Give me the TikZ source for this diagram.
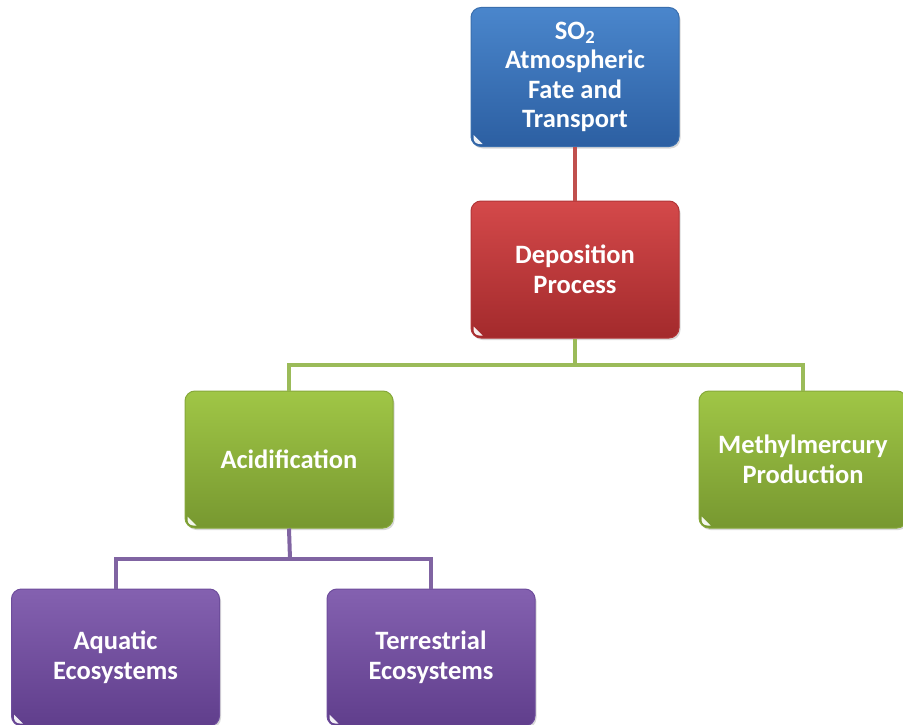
\documentclass[tikz,border=0pt]{standalone}
\usepackage{fontspec}
\setmainfont{Carlito}
\usetikzlibrary{shadows}
\definecolor{bluetop}{HTML}{4A86CC}
\definecolor{bluebot}{HTML}{2C5FA2}
\definecolor{bluedraw}{HTML}{3A6FAE}
\definecolor{redtop}{HTML}{D4494A}
\definecolor{redbot}{HTML}{A32A2C}
\definecolor{reddraw}{HTML}{B23638}
\definecolor{greentop}{HTML}{A0C646}
\definecolor{greenbot}{HTML}{779830}
\definecolor{greendraw}{HTML}{86A83A}
\definecolor{purptop}{HTML}{8461B0}
\definecolor{purpbot}{HTML}{603E8C}
\definecolor{purpdraw}{HTML}{6E4D9C}
\definecolor{redline}{HTML}{C0504D}
\definecolor{greenline}{HTML}{9BBB59}
\definecolor{purpline}{HTML}{8064A2}
\tikzset{
  boxbase/.style={rectangle, rounded corners=10pt, minimum width=208pt, minimum height=137pt,
    text=white, font=\fontsize{26.5}{29.5}\selectfont\bfseries, align=center, line width=1pt,
    drop shadow={shadow xshift=1.5pt, shadow yshift=-2pt, opacity=0.3}},
  bluebox/.style={boxbase, top color=bluetop, bottom color=bluebot, draw=bluedraw},
  redbox/.style={boxbase, top color=redtop, bottom color=redbot, draw=reddraw},
  greenbox/.style={boxbase, top color=greentop, bottom color=greenbot, draw=greendraw},
  purpbox/.style={boxbase, top color=purptop, bottom color=purpbot, draw=purpdraw},
  conn/.style={line width=4pt},
  glint/.style={fill=white, fill opacity=0.92},
}
\begin{document}
\begin{tikzpicture}[x=1pt,y=-1pt]
\useasboundingbox (0,0) rectangle (903,725);
\node[redbox] (red) at (575,269.5) {Deposition\\Process};
\node[bluebox, minimum height=139pt] (blue) at (575,77) {SO\textsubscript{2}\\Atmospheric\\Fate and\\Transport};
\coordinate (gj) at (575,365);
\coordinate (pj) at (290,559);
\draw[conn, redline] (blue.south) -- (red.north);
\node[greenbox] (acid) at (289,459.5) {Acidification};
\node[greenbox] (meth) at (803,459.5) {Methylmercury\\Production};
\draw[conn, greenline] (red.south) -- (gj);
\draw[conn, greenline] (acid.north) |- (gj) -| (meth.north);
\node[purpbox] (aqua) at (115.5,657.5) {Aquatic\\Ecosystems};
\node[purpbox] (terr) at (431,657.5) {Terrestrial\\Ecosystems};
\draw[conn, purpline] (acid.south) -- (pj);
\draw[conn, purpline] (aqua.north) |- (pj) -| (terr.north);
\foreach \n in {blue,red,acid,meth,aqua,terr}{
  \path[glint]
    ([shift={(3,-12)}]\n.south west) --
    ([shift={(12,-3)}]\n.south west) --
    ([shift={(9,-3)}]\n.south west) .. controls
    ([shift={(5.5,-3)}]\n.south west) and
    ([shift={(3,-5.5)}]\n.south west) ..
    ([shift={(3,-9)}]\n.south west) -- cycle;
}
\end{tikzpicture}
\end{document}
